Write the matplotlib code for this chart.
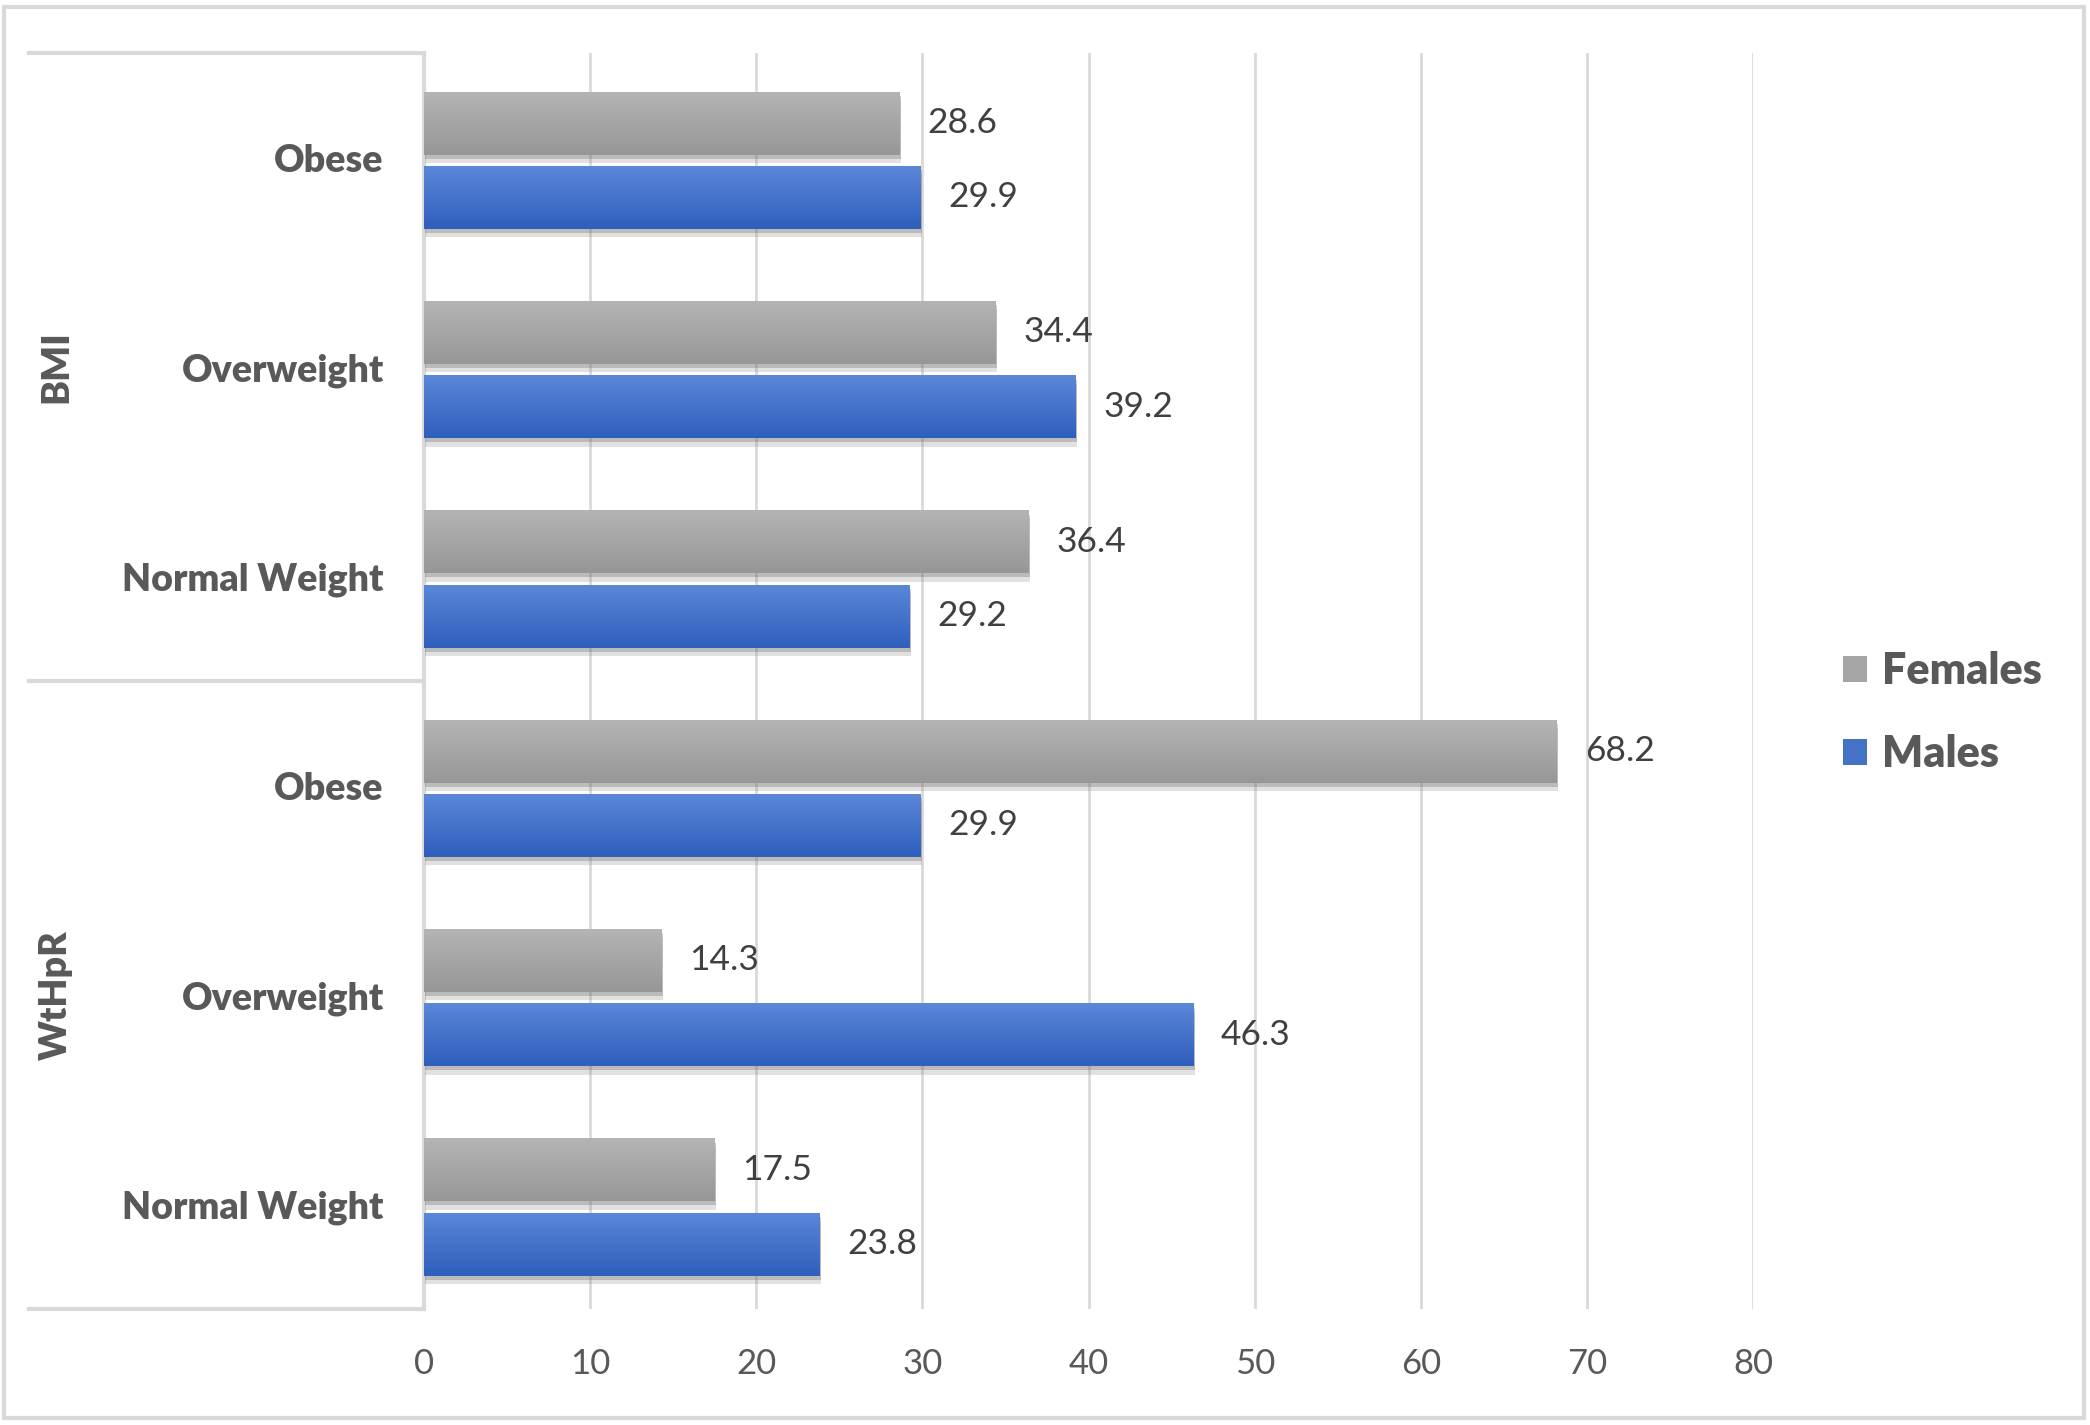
import numpy as np
import matplotlib
matplotlib.use("Agg")
import matplotlib.pyplot as plt
from matplotlib.patches import Patch, Rectangle
from matplotlib import patheffects as pe
from matplotlib.transforms import blended_transform_factory
from matplotlib import font_manager as fm

# ---- data ----
groups = ["BMI", "WtHpR"]
categories = ["Obese", "Overweight", "Normal Weight",
              "Obese", "Overweight", "Normal Weight"]
females = [28.6, 34.4, 36.4, 68.2, 14.3, 17.5]
males = [29.9, 39.2, 29.2, 29.9, 46.3, 23.8]
xticks = [0, 10, 20, 30, 40, 50, 60, 70, 80]

plt.rcParams['font.family'] = ['Lato', 'DejaVu Sans']
print(sorted({(f.name, f.weight) for f in fm.fontManager.ttflist if 'Lato' in f.name}))

fig = plt.figure(figsize=(20.9, 14.25), dpi=100)
ax = fig.add_axes([0.2029, 0.0814, 0.6359, 0.8814])

y = np.arange(len(categories))
bh = 0.30

grid_c = '#d9d9d9'
shadow = [pe.SimplePatchShadow(offset=(1, -6), shadow_rgbFace='#888888', alpha=0.25),
          pe.SimplePatchShadow(offset=(1, -3), shadow_rgbFace='#666666', alpha=0.3),
          pe.Normal()]

bf = ax.barh(y - 0.165, females, height=bh, color='#a5a5a5', zorder=3, path_effects=shadow)
bm = ax.barh(y + 0.19, males, height=bh, color='#4472c4', zorder=3, path_effects=shadow)

def add_gradient(container, top, bottom):
    c0 = np.array(matplotlib.colors.to_rgb(top))
    c1 = np.array(matplotlib.colors.to_rgb(bottom))
    t = np.linspace(0, 1, 64)[:, None]
    img = (c0[None, :] * (1 - t) + c1[None, :] * t)[:, None, :]
    for p in container.patches:
        x0, y0, w, h = p.get_x(), p.get_y(), p.get_width(), p.get_height()
        im = ax.imshow(img, extent=(x0, x0 + w, y0 + h, y0), origin='upper',
                       aspect='auto', zorder=4, interpolation='bilinear')
        im.set_clip_path(p)

add_gradient(bf, '#b4b4b4', '#979797')
add_gradient(bm, '#5b87d8', '#2f5fbd')

for cont, vals in ((bf, females), (bm, males)):
    for p, v in zip(cont.patches, vals):
        ax.annotate(f"{v:.1f}", xy=(p.get_x() + p.get_width(), p.get_y() + p.get_height() / 2),
                    xytext=(20, 0), textcoords='offset points', ha='left', va='center',
                    fontsize=25.5, color='#404040', zorder=5)

ax.set_xlim(0, 80)
ax.set_ylim(len(categories) - 0.5, -0.5)
ax.set_xticks(xticks)
ax.set_xticklabels([str(t) for t in xticks])
ax.set_yticks(y)
ax.set_yticklabels(categories, fontweight='heavy')
ax.tick_params(axis='y', length=0, pad=29, labelsize=27, labelcolor='#595959')
ax.tick_params(axis='x', length=0, pad=28, labelsize=25, labelcolor='#595959')
ax.grid(axis='x', color=grid_c, lw=2, zorder=0)
ax.set_axisbelow(True)
for s in ['top', 'right', 'bottom']:
    ax.spines[s].set_visible(False)
ax.spines['left'].set_color(grid_c)
ax.spines['left'].set_linewidth(3)
ax.spines['left'].set_zorder(2)

# category axis lines
tr = blended_transform_factory(ax.transAxes, ax.transData)
n_per = len(categories) // len(groups)
for k in range(len(groups) + 1):
    yy = k * n_per - 0.5
    ax.plot([-0.297, 0], [yy, yy], transform=tr, color=grid_c, lw=3, clip_on=False, zorder=1)
for k, g in enumerate(groups):
    yc = k * n_per + (n_per - 1) / 2
    ax.text(-0.277, yc, g, transform=tr, rotation=90, ha='center', va='center',
            fontsize=27, fontweight='heavy', color='#595959')

# legend
handles = [Patch(facecolor='#a5a5a5'), Patch(facecolor='#4472c4')]
fig.legend(handles, ['Females', 'Males'], loc='center left', bbox_to_anchor=(0.8635, 0.500),
           frameon=False, handlelength=0.55, handleheight=0.55, handletextpad=0.35,
           labelspacing=1.0, prop={'weight': 'heavy', 'size': 31}, labelcolor='#595959')

# outer border
fig.patches.append(Rectangle((0.002, 0.005), 0.995, 0.99, transform=fig.transFigure,
                             fill=False, edgecolor=grid_c, lw=3))

fig.savefig('out.png', dpi=100)
